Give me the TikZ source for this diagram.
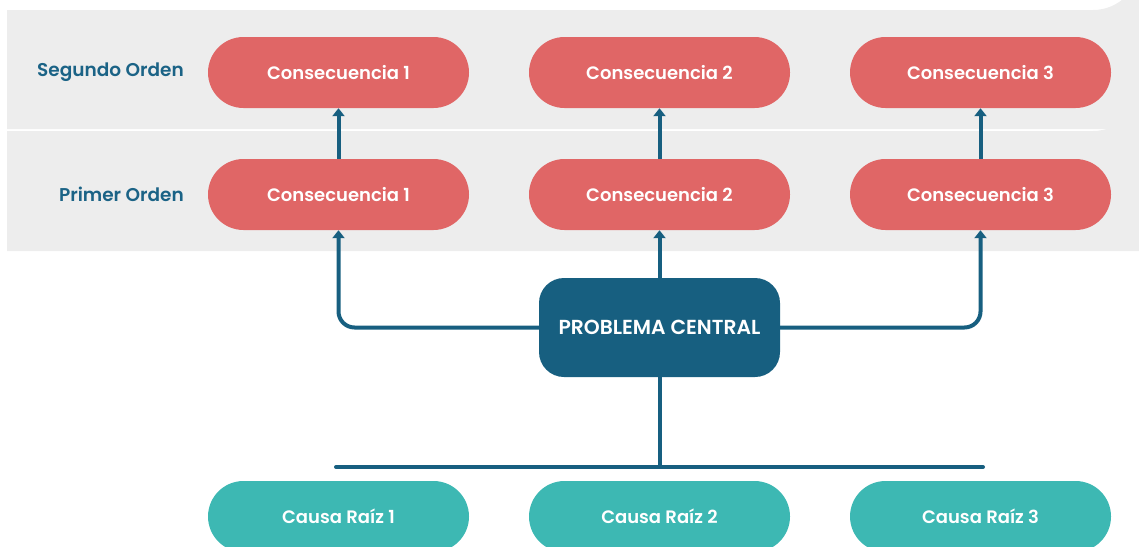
\documentclass[tikz,border=0pt]{standalone}
\usepackage{fontspec}
\setmainfont{Poppins}[BoldFont={Poppins SemiBold}]
\usetikzlibrary{arrows.meta}
\definecolor{band}{HTML}{EDEDED}
\definecolor{pillred}{HTML}{E06666}
\definecolor{teal}{HTML}{3DB8B3}
\definecolor{navy}{HTML}{175F80}
\definecolor{lbl}{HTML}{1B6386}
\tikzset{
  pill/.style={rounded corners=35.5pt, minimum width=261pt, minimum height=71pt, inner sep=0pt, text=white, font=\fontsize{18}{21}\selectfont\bfseries},
  conpill/.style={pill, fill=pillred},
  causepill/.style={pill, fill=teal},
  central/.style={fill=navy, rounded corners=25pt, minimum width=241pt, minimum height=99pt, inner sep=0pt, text=white, font=\fontsize{20.3}{23}\selectfont\bfseries},
  rowlabel/.style={anchor=east, text=lbl, inner sep=0pt, font=\fontsize{18.5}{21}\selectfont\bfseries},
  conn/.style={draw=navy, line width=4pt},
  arr/.style={conn, -{Triangle[width=12pt,length=8pt]}},
}
\begin{document}
\begin{tikzpicture}[x=1pt,y=-1pt]
\useasboundingbox (0,0) rectangle (1139,546);
\clip (0,0) rectangle (1139,546);
% bands
\fill[band] (7,129) -- (7,10) -- (1093,10) arc[start angle=90,end angle=0,radius=46.5] -- (1139.5,129) -- cycle;
\fill[band] (7,251) -- (7,131) -- (1093,131) arc[start angle=90,end angle=0,radius=46.5] -- (1139.5,251) -- cycle;
% labels
\node[rowlabel] (l2) at (184,72.5) {Segundo Orden};
\node[rowlabel] (l1) at (184,194.5) {Primer Orden};
% consequences
\node[conpill] (s1) at (338.5,72.5) {Consecuencia 1};
\node[conpill] (s2) at (659.5,72.5) {Consecuencia 2};
\node[conpill] (s3) at (980.5,72.5) {Consecuencia 3};
\node[conpill] (p1) at (338.5,194.5) {Consecuencia 1};
\node[conpill] (p2) at (659.5,194.5) {Consecuencia 2};
\node[conpill] (p3) at (980.5,194.5) {Consecuencia 3};
% central
\node[central] (pc) at (659.5,327.5) {PROBLEMA CENTRAL};
% causes
\node[causepill] (c1) at (338.5,516.5) {Causa Raíz 1};
\node[causepill] (c2) at (659.5,516.5) {Causa Raíz 2};
\node[causepill] (c3) at (980.5,516.5) {Causa Raíz 3};
% connectors
\draw[arr] (p1.north) -- (s1.south);
\draw[arr] (p2.north) -- (s2.south);
\draw[arr] (p3.north) -- (s3.south);
\draw[arr] (pc.north) -- (p2.south);
\draw[arr, rounded corners=16pt] (pc.west) -| (p1.south);
\draw[arr, rounded corners=16pt] (pc.east) -| (p3.south);
\coordinate (hl) at (336,467);
\coordinate (hr) at (983,467);
\coordinate (hm) at (659.5,467);
\draw[conn] (pc.south) -- (hm);
\draw[conn, line cap=round] (hl) -- (hr);
\end{tikzpicture}
\end{document}
